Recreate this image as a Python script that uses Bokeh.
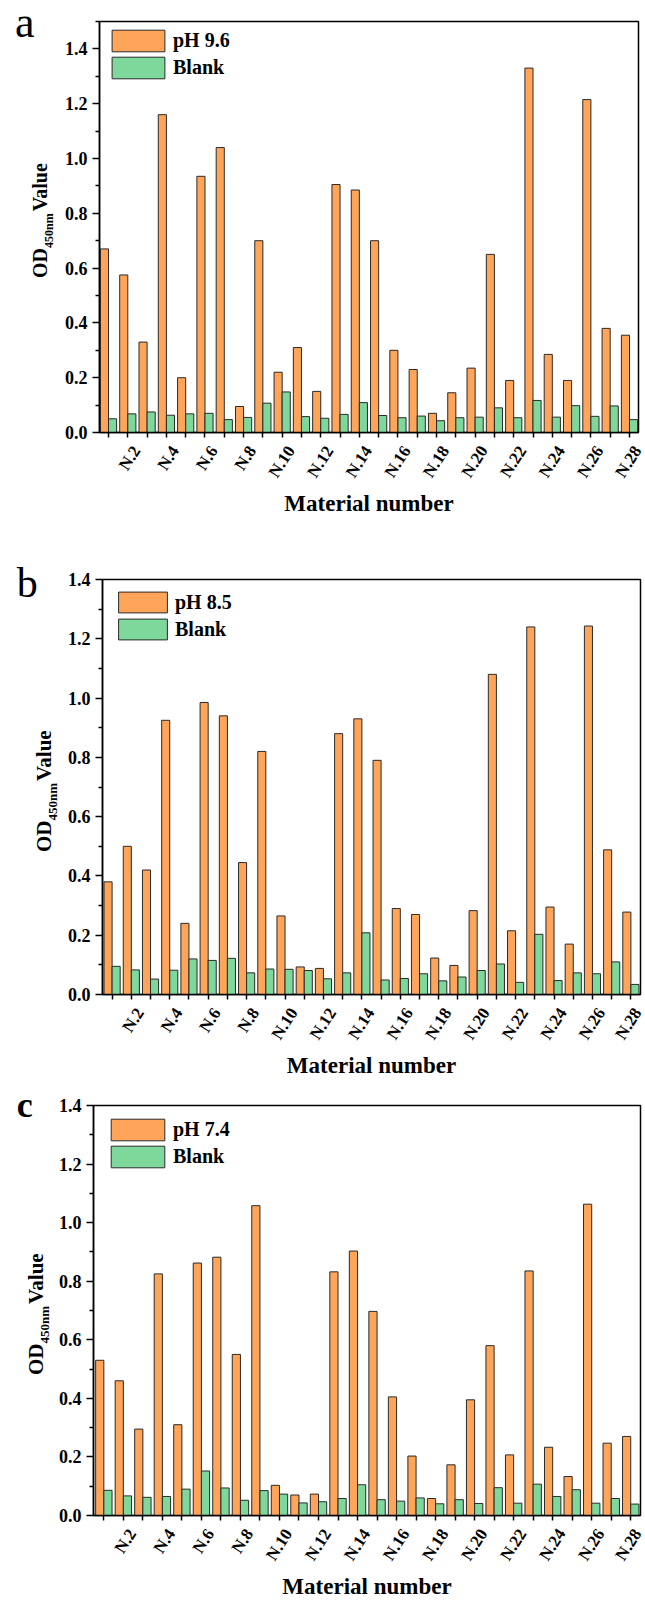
import math
from bokeh.plotting import figure
from bokeh.layouts import column, row
from bokeh.models import (Range1d, FixedTicker, PrintfTickFormatter,
                          Legend, LegendItem, ColumnDataSource, Div)
from bokeh.transform import dodge
from bokeh.embed import file_html
from bokeh.resources import INLINE

# ---------------- data ----------------
categories = ["N.1", "N.2", "N.3", "N.4", "N.5", "N.6", "N.7", "N.8", "N.9", "N.10",
              "N.11", "N.12", "N.13", "N.14", "N.15", "N.16", "N.17", "N.18", "N.19", "N.20",
              "N.21", "N.22", "N.23", "N.24", "N.25", "N.26", "N.27", "N.28"]
positions = list(range(1, len(categories) + 1))
tick_labels = categories[1::2]          # N.2, N.4, ... N.28 are labelled
tick_label_pos = positions[1::2]

y_ticks = [0.0, 0.2, 0.4, 0.6, 0.8, 1.0, 1.2, 1.4]
y_minor_ticks = [0.1, 0.3, 0.5, 0.7, 0.9, 1.1, 1.3, 1.5]

ph96 = [0.67, 0.575, 0.33, 1.16, 0.20, 0.935, 1.04, 0.095, 0.70, 0.22,
        0.31, 0.15, 0.905, 0.885, 0.70, 0.30, 0.23, 0.07, 0.145, 0.235,
        0.65, 0.19, 1.33, 0.285, 0.19, 1.215, 0.38, 0.355]
blank96 = [0.05, 0.068, 0.075, 0.063, 0.068, 0.07, 0.047, 0.055, 0.107, 0.148,
           0.058, 0.052, 0.066, 0.109, 0.062, 0.054, 0.06, 0.043, 0.054, 0.056,
           0.09, 0.054, 0.117, 0.056, 0.098, 0.059, 0.097, 0.047]

ph85 = [0.38, 0.50, 0.42, 0.925, 0.24, 0.985, 0.94, 0.445, 0.82, 0.265,
        0.093, 0.088, 0.88, 0.93, 0.79, 0.29, 0.27, 0.123, 0.098, 0.283,
        1.08, 0.215, 1.24, 0.295, 0.17, 1.243, 0.488, 0.278]
blank85 = [0.095, 0.083, 0.052, 0.082, 0.12, 0.115, 0.122, 0.073, 0.086, 0.085,
           0.081, 0.053, 0.073, 0.208, 0.049, 0.054, 0.07, 0.046, 0.059, 0.081,
           0.103, 0.041, 0.203, 0.047, 0.073, 0.07, 0.11, 0.034]

ph74 = [0.53, 0.46, 0.295, 0.825, 0.31, 0.862, 0.882, 0.55, 1.058, 0.103,
        0.07, 0.073, 0.832, 0.903, 0.697, 0.405, 0.203, 0.058, 0.173, 0.395,
        0.58, 0.207, 0.835, 0.233, 0.133, 1.063, 0.247, 0.27]
blank74 = [0.086, 0.067, 0.062, 0.065, 0.09, 0.152, 0.094, 0.052, 0.085, 0.073,
           0.043, 0.047, 0.058, 0.105, 0.054, 0.049, 0.06, 0.04, 0.054, 0.041,
           0.095, 0.042, 0.107, 0.065, 0.088, 0.042, 0.058, 0.039]

series_names = ["pH 9.6", "pH 8.5", "pH 7.4"]
blank_name = "Blank"
panel_letters = ["a", "b", "c"]
x_title = "Material number"
y_title_parts = ["OD", "450nm", "Value"]

# ---------------- style ----------------
ORANGE = "#FFA55A"
GREEN = "#7ED89C"
EDGE = "#2a2a2a"
FONT = "Liberation Serif"
LABEL_SHIFT = 0.45
BAR_W = 0.42
ASC, DESC = 0.891, 0.216     # Liberation Serif ascent / descent (em)


def base_off(line_height):
    """baseline offset (em) from the top of a line box with the given line-height"""
    return (line_height - (ASC + DESC)) / 2 + ASC


# strip = width of the left text strip (panel letter + rotated y title)
geoms = [
    dict(height=520, strip=57, left=99, right=7, top=21, bottom=88,
         xr=(0.533, 28.467), yr=(0.0, 1.5),
         margin=6, glyph=(66, 27), spacing=0,
         letter=(15, 37, 44, "normal"),
         ylab=(47, 53, 278, 20, 12)),
    dict(height=560, strip=60, left=102, right=5, top=59, bottom=83,
         xr=(0.5, 28.5), yr=(0.0, 1.4),
         margin=10, glyph=(61, 26), spacing=1,
         letter=(16.7, 598 - 520, 42, "normal"),
         ylab=(52, 57.5, 852 - 520, 21, 13)),
    dict(height=521, strip=51, left=93, right=5, top=25, bottom=82,
         xr=(0.47, 28.5), yr=(0.0, 1.4),
         margin=11, glyph=(67, 27), spacing=0,
         letter=(16.7, 1118 - 1080, 36, "bold"),
         ylab=(43.5, 49, 1375 - 1080, 21, 13)),
]


def make_strip(g, letter):
    W, H = g["strip"], g["height"]
    lx, lbase, lsz, lweight = g["letter"]
    LH_LETTER = 0.75
    ltop = lbase - base_off(LH_LETTER) * lsz
    bx, sbx, y0, big, small = g["ylab"]
    X = bx - base_off(1.0) * big
    html = (
        f'<div style="position:relative;width:{W}px;height:{H}px;overflow:visible;">'
        f'<span style="position:absolute;left:{lx}px;top:{ltop:.1f}px;'
        f"font-family:'{FONT}';font-size:{lsz}px;font-weight:{lweight};"
        f'line-height:{LH_LETTER};color:#000;white-space:nowrap;">{letter}</span>'
        f'<div style="position:absolute;left:{X:.2f}px;top:{y0}px;white-space:nowrap;'
        f"font-family:'{FONT}';font-size:{big}px;font-weight:bold;line-height:1;color:#000;"
        f'transform-origin:0 0;transform:rotate(-90deg);">'
        f'{y_title_parts[0]}'
        f'<span style="font-size:{small}px;position:relative;top:{sbx - bx:.1f}px;">'
        f'{y_title_parts[1]}</span>'
        f'<span style="margin-left:2px;">{y_title_parts[2]}</span>'
        f'</div></div>'
    )
    return Div(text=html, width=W, height=H, margin=0, styles={"overflow": "visible"})


def make_panel(g, ph_name, ph_vals, blank_vals):
    p = figure(width=645 - g["strip"], height=g["height"],
               x_range=Range1d(*g["xr"]), y_range=Range1d(*g["yr"]),
               output_backend="svg", toolbar_location=None,
               min_border_left=g["left"] - g["strip"], min_border_right=g["right"],
               min_border_top=g["top"], min_border_bottom=g["bottom"])
    p.grid.visible = False
    p.background_fill_color = "white"
    p.border_fill_color = "white"
    p.outline_line_color = "black"
    p.outline_line_width = 1.5

    src = ColumnDataSource(dict(x=positions, ph=ph_vals, blank=blank_vals))
    r1 = p.vbar(x=dodge("x", -BAR_W / 2), top="ph", width=BAR_W, source=src,
                fill_color=ORANGE, line_color=EDGE, line_width=1)
    r2 = p.vbar(x=dodge("x", BAR_W / 2), top="blank", width=BAR_W, source=src,
                fill_color=GREEN, line_color=EDGE, line_width=1)

    # x axis: tick marks at every material (minor ticks), labels for even ones
    xa = p.xaxis[0]
    lab_pos = [k + LABEL_SHIFT for k in tick_label_pos]
    xa.ticker = FixedTicker(ticks=lab_pos, minor_ticks=positions)
    xa.major_label_overrides = {lp: t for lp, t in zip(lab_pos, tick_labels)}
    xa.major_tick_line_color = None
    xa.major_tick_out = 5
    xa.major_tick_in = 0
    xa.minor_tick_line_color = "black"
    xa.minor_tick_line_width = 1.5
    xa.minor_tick_out = 5
    xa.minor_tick_in = 0
    xa.axis_line_color = "black"
    xa.axis_line_width = 1.5
    xa.major_label_orientation = 1.0
    xa.major_label_standoff = 10
    xa.major_label_text_font = FONT
    xa.major_label_text_font_style = "bold"
    xa.major_label_text_font_size = "17px"
    xa.major_label_text_color = "black"
    xa.axis_label = x_title
    xa.axis_label_text_font = FONT
    xa.axis_label_text_font_style = "bold"
    xa.axis_label_text_font_size = "23px"
    xa.axis_label_text_color = "black"
    xa.axis_label_standoff = 2

    ya = p.yaxis[0]
    ya.ticker = FixedTicker(ticks=y_ticks, minor_ticks=y_minor_ticks)
    ya.formatter = PrintfTickFormatter(format="%.1f")
    ya.major_tick_out = 7
    ya.major_tick_in = 0
    ya.minor_tick_out = 4
    ya.minor_tick_in = 0
    ya.major_tick_line_width = 1.5
    ya.minor_tick_line_width = 1.5
    ya.axis_line_width = 1.5
    ya.axis_line_color = "black"
    ya.major_label_standoff = 5
    ya.major_label_text_font = FONT
    ya.major_label_text_font_style = "bold"
    ya.major_label_text_font_size = "18px"
    ya.major_label_text_color = "black"

    gw, gh = g["glyph"]
    legend = Legend(items=[LegendItem(label=ph_name, renderers=[r1]),
                           LegendItem(label=blank_name, renderers=[r2])],
                    location="top_left", margin=g["margin"], padding=0, spacing=g["spacing"],
                    glyph_width=gw, glyph_height=gh, label_height=gh, label_standoff=2,
                    border_line_color=None, background_fill_alpha=0,
                    label_text_font=FONT, label_text_font_style="bold",
                    label_text_font_size="20px", label_text_color="black")
    p.add_layout(legend)
    return p


ph_series = [ph96, ph85, ph74]
blank_series = [blank96, blank85, blank74]
rows = []
for i in range(3):
    g = geoms[i]
    rows.append(row(make_strip(g, panel_letters[i]),
                    make_panel(g, series_names[i], ph_series[i], blank_series[i]),
                    spacing=0))

layout = column(*rows, spacing=0)
open("out.html", "w").write(file_html(layout, INLINE))
